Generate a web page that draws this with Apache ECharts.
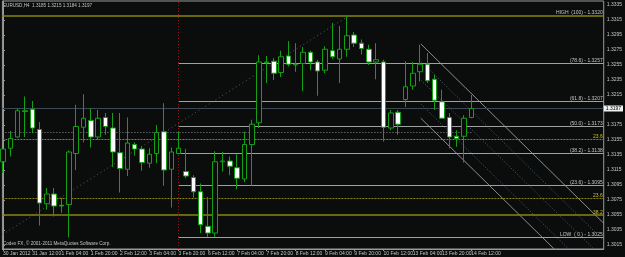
<!DOCTYPE html>
<html><head><meta charset="utf-8">
<script src="https://cdn.jsdelivr.net/npm/echarts@6/dist/echarts.min.js"></script>
<style>html,body{margin:0;padding:0;background:#0b0d0d}#c{width:625px;height:257px}</style>
</head><body><div id="c"></div>
<script>
// ---- data ----
const symbolName = 'EURUSD,H4';
const timeLabels = ['30 Jan 2012','31 Jan 12:00','1 Feb 04:00','1 Feb 20:00','2 Feb 12:00','3 Feb 04:00','3 Feb 20:00','6 Feb 12:00','7 Feb 04:00','7 Feb 20:00','8 Feb 12:00','9 Feb 04:00','9 Feb 20:00','10 Feb 12:00','13 Feb 04:00','13 Feb 20:00','14 Feb 12:00'];
const labelBars = [0,4,8,12,16,20,24,28,32,36,40,44,48,52,56,60,64];
const opens  = [1.3126,1.3144,1.3159,1.3193,1.3196,1.3169,1.3070,1.3083,1.3068,1.3069,1.3137,1.3172,1.3181,1.3159,1.3185,1.3171,1.3138,1.3116,1.3149,1.3143,1.3124,1.3137,1.3166,1.3116,1.3137,1.3113,1.3105,1.3086,1.3040,1.3031,1.3126,1.3127,1.3118,1.3103,1.3149,1.3178,1.3258,1.3260,1.3245,1.3267,1.3255,1.3257,1.3272,1.3259,1.3248,1.3274,1.3263,1.3276,1.3295,1.3284,1.3276,1.3259,1.3259,1.3171,1.3192,1.3209,1.3227,1.3246,1.3256,1.3236,1.3206,1.3185,1.3160,1.3160,1.3185];
const highs  = [1.3144,1.3167,1.3197,1.3213,1.3207,1.3179,1.3091,1.3091,1.3078,1.3141,1.3202,1.3216,1.3197,1.3195,1.3191,1.3191,1.3191,1.3185,1.3152,1.3147,1.3144,1.3175,1.3204,1.3145,1.3166,1.3143,1.3108,1.3097,1.3079,1.3140,1.3139,1.3133,1.3136,1.3166,1.3182,1.3268,1.3267,1.3264,1.3274,1.3287,1.3284,1.3279,1.3274,1.3262,1.3280,1.3311,1.3307,1.3320,1.3299,1.3289,1.3282,1.3284,1.3262,1.3195,1.3195,1.3260,1.3259,1.3282,1.3271,1.3242,1.3222,1.3191,1.3168,1.3188,1.3215];
const lows   = [1.3111,1.3133,1.3158,1.3159,1.3164,1.3041,1.3062,1.3053,1.3058,1.3025,1.3115,1.3152,1.3145,1.3155,1.3162,1.3119,1.3085,1.3107,1.3134,1.3114,1.3118,1.3124,1.3094,1.3065,1.3136,1.3104,1.3078,1.3031,1.3026,1.3026,1.3113,1.3108,1.3089,1.3099,1.3094,1.3171,1.3231,1.3235,1.3239,1.3253,1.3246,1.3220,1.3248,1.3214,1.3244,1.3263,1.3231,1.3266,1.3279,1.3269,1.3255,1.3236,1.3153,1.3168,1.3162,1.3199,1.3222,1.3233,1.3231,1.3195,1.3183,1.3144,1.3146,1.3125,1.3184];
const closes = [1.3143,1.3157,1.3194,1.3194,1.3171,1.3071,1.3083,1.3067,1.3067,1.3139,1.3173,1.3184,1.3159,1.3184,1.3173,1.3139,1.3117,1.3151,1.3143,1.3125,1.3136,1.3165,1.3115,1.3139,1.3144,1.3107,1.3086,1.3042,1.3031,1.3126,1.3127,1.3120,1.3104,1.3149,1.3176,1.3259,1.3259,1.3244,1.3266,1.3256,1.3256,1.3272,1.3259,1.3247,1.3276,1.3266,1.3276,1.3294,1.3284,1.3277,1.3259,1.3262,1.3172,1.3191,1.3176,1.3226,1.3244,1.3256,1.3234,1.3208,1.3184,1.3159,1.3157,1.3184,1.3197];
const priceTicks = [1.3335,1.3315,1.3295,1.3275,1.3255,1.3235,1.3215,1.3195,1.3175,1.3155,1.3135,1.3115,1.3095,1.3075,1.3055,1.3035,1.3015];
const bidPrice = 1.3197;
const fibStartBar = 24;
const fibWhiteNames  = ['(78.6) - 1.3257','(61.8) - 1.3207','(50.0) - 1.3173','(38.2) - 1.3138','(23.6) - 1.3095','LOW  ( 0 ) - 1.3025'];
const fibWhitePrices = [1.3257,1.3207,1.3173,1.3138,1.3095,1.3025];
const highLevelName = 'HIGH  (100) - 1.3320';
const highLevelPrice = 1.3321;
const fibYellowSolidNames  = ['38.2'];
const fibYellowSolidPrices = [1.3055];
const fibYellowDashNames   = ['23.6','23.6'];
const fibYellowDashPrices  = [1.3156,1.3078];
const dottedLevelPrice = 1.3166;
const dottedLevelBars = [-0.08, 64];
const separatorBar = 24;
const trendBars = [-0.08, 47];
const trendPrices = [1.3029, 1.3319];
const channelBars = [57.1, 82.09];
const channelStart = [1.3283, 1.3260, 1.3235, 1.3203, 1.3184];
const channelEnd   = [1.3044, 1.3021, 1.2997, 1.2964, 1.2945];
const channelSolid = [true, false, false, false, true];
const copyright = 'Codex FX, © 2001-2011 MetaQuotes Software Corp.';

// ---- chart ----
const X_MIN = -0.08, X_MAX = 82.09;
const FONT = 'Liberation Sans';
const TXT = '#c4c4c4';
const GREEN = '#13a013';
const OLIVE = '#8a8410';
const candleData = opens.map((o, i) => [i, o, closes[i], lows[i], highs[i]]);
const last = opens.length - 1;
const titleText = symbolName + '  ' + [opens[last], highs[last], lows[last], closes[last]].map(v => v.toFixed(4)).join(' ');

const pairLines = (prices, names, from) => prices.map((p, k) => [
  {coord: [from, p], label: {formatter: names[k]}},
  {coord: [X_MAX, p]}
]);

function levelSeries(lines, lineColor, lineType, labelColor, width) {
  return {
    type: 'line', data: [], z: 2, silent: true,
    markLine: {
      symbol: ['none','none'], silent: true, animation: false, precision: 6,
      lineStyle: {color: lineColor, width: width, type: lineType, opacity: 1},
      label: {show: true, position: 'insideEndTop', color: labelColor, fontSize: 5, fontFamily: FONT, distance: [1, 0]},
      data: lines
    }
  };
}

const series = [
  levelSeries(pairLines(fibWhitePrices, fibWhiteNames, fibStartBar), '#a0a0a0', 'solid', TXT, 1),
  levelSeries(pairLines([highLevelPrice], [highLevelName], X_MIN), OLIVE, 'solid', TXT, 1.5),
  levelSeries(pairLines(fibYellowSolidPrices, fibYellowSolidNames, X_MIN), OLIVE, 'solid', '#c8c020', 1.5),
  levelSeries(pairLines(fibYellowDashPrices, fibYellowDashNames, X_MIN), OLIVE, [2, 1], '#c8c020', 1.2),
  {
    type: 'line', data: [], z: 2, silent: true,
    markLine: {
      symbol: ['none','none'], silent: true, animation: false, precision: 6,
      data: [
        [{coord: [dottedLevelBars[0], dottedLevelPrice], lineStyle: {color: '#8a8a8a', type: [1, 2], width: 1}, label: {show: false}},
         {coord: [dottedLevelBars[1], dottedLevelPrice]}],
        {xAxis: separatorBar, lineStyle: {color: '#9a1010', type: [1, 2], width: 1}, label: {show: false}},
        {yAxis: bidPrice, lineStyle: {color: '#3c4858', type: 'solid', width: 1},
         label: {show: true, position: 'end', formatter: bidPrice.toFixed(4), color: '#000', backgroundColor: '#f0f0f0',
                 fontSize: 5, fontFamily: FONT, padding: [1, 2, 0, 2], distance: 0}}
      ]
    }
  },
  {
    type: 'line', z: 2, silent: true, symbol: 'none', clip: true, animation: false,
    data: [[trendBars[0], trendPrices[0]], [trendBars[1], trendPrices[1]]],
    lineStyle: {color: '#5a5a5a', width: 1, type: [1, 3]}
  }
];
channelStart.forEach((p, k) => {
  series.push({
    type: 'line', z: 2, silent: true, symbol: 'none', clip: true, animation: false,
    data: [[channelBars[0], p], [channelBars[1], channelEnd[k]]],
    lineStyle: channelSolid[k] ? {color: '#8c8c8c', width: 1} : {color: '#506078', width: 1, type: [1, 2]}
  });
});
series.push({
  type: 'candlestick', z: 5, data: candleData, barWidth: 5, clip: true,
  encode: {x: 0, y: [1, 2, 3, 4]},
  itemStyle: {color: '#0b0d0d', color0: '#ffffff', borderColor: GREEN, borderColor0: GREEN, borderWidth: 1}
});

const chart = echarts.init(document.getElementById('c'), null, {renderer: 'canvas'});
chart.setOption({
  backgroundColor: '#0b0d0d',
  animation: false,
  grid: {left: 1, top: 1, right: 18, bottom: 8, show: true, borderColor: '#9a9a9a', borderWidth: 1, backgroundColor: 'transparent'},
  xAxis: {
    type: 'value', min: X_MIN, max: X_MAX,
    splitLine: {show: false},
    axisLine: {show: true, lineStyle: {color: '#9a9a9a'}},
    axisTick: {show: true, customValues: labelBars, length: 2, lineStyle: {color: '#9a9a9a'}},
    axisLabel: {customValues: labelBars, color: TXT, fontSize: 5, fontFamily: FONT, align: 'left', margin: 2,
      formatter: v => timeLabels[labelBars.indexOf(Math.round(v))] || ''}
  },
  yAxis: {
    type: 'value', position: 'right', min: 1.30097, max: 1.33403, scale: true,
    splitLine: {show: false},
    axisLine: {show: true, lineStyle: {color: '#9a9a9a'}},
    axisTick: {show: true, customValues: priceTicks, length: 2, lineStyle: {color: '#9a9a9a'}},
    axisLabel: {customValues: priceTicks, color: TXT, fontSize: 5, fontFamily: FONT, margin: 3,
      formatter: v => v.toFixed(4)}
  },
  graphic: [
    {type: 'text', left: 3, top: 3, style: {text: titleText, fill: TXT, fontSize: 4.6, fontFamily: FONT}},
    {type: 'text', left: 3, top: 241, style: {text: copyright, fill: TXT, fontSize: 4.6, fontFamily: FONT}}
  ],
  series: series
});
</script></body></html>
